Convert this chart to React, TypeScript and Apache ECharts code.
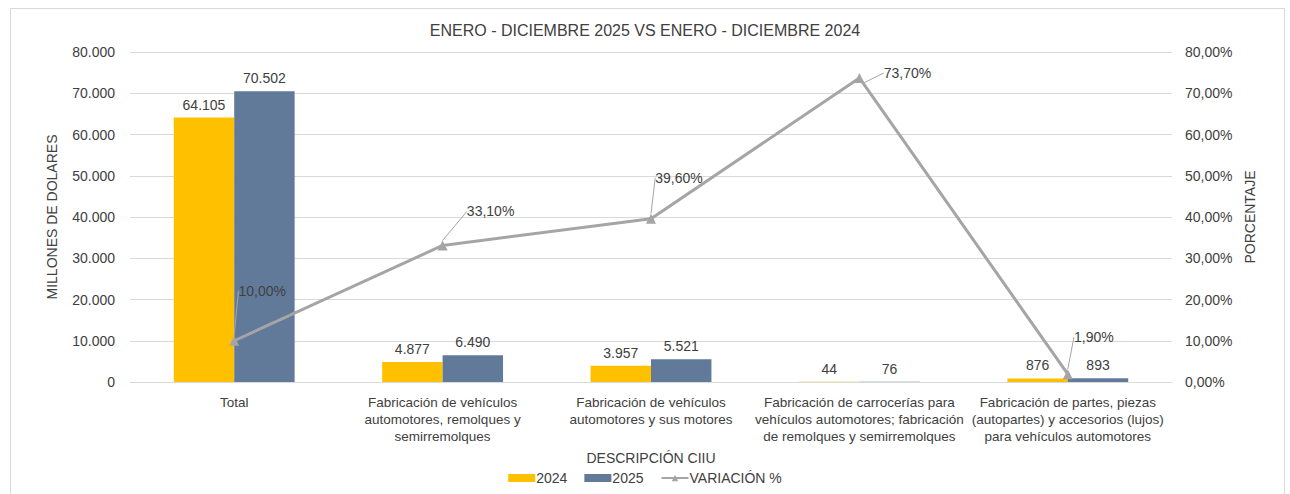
import React, { useEffect, useRef } from "react";
import * as echarts from "echarts";

const categories = [
  "Total",
  "Fabricación de vehículos\nautomotores, remolques y\nsemirremolques",
  "Fabricación de vehículos\nautomotores y sus motores",
  "Fabricación de carrocerías para\nvehículos automotores; fabricación\nde remolques y semirremolques",
  "Fabricación de partes, piezas\n(autopartes) y accesorios (lujos)\npara vehículos automotores",
];
const values2024 = [64105, 4877, 3957, 44, 876];
const values2025 = [70502, 6490, 5521, 76, 893];
const variation = [10.0, 33.1, 39.6, 73.7, 1.9];

const leftTicks = { min: 0, max: 80000, interval: 10000 };
const rightTicks = { min: 0, max: 80, interval: 10 };

// label displacement (px) for variation labels
const varLabelShift = [
  [28, -33],
  [48, -17],
  [28, -24],
  [48, 12],
  [26, -20],
];

const FONT = "'Liberation Sans Narrow', 'Liberation Sans', Arial, sans-serif";
const TXT = "#404040";

const fmtThousands = (v: number) =>
  v === 0 ? "0" : Math.round(v).toString().replace(/\B(?=(\d{3})+(?!\d))/g, ".");
const fmtPct = (v: number) => v.toFixed(2).replace(".", ",") + "%";

export default function App() {
  const ref = useRef<HTMLDivElement>(null);
  useEffect(() => {
    if (!ref.current) return;
    const chart = echarts.init(ref.current, undefined, { renderer: "svg" });
    chart.setOption({
      animation: false,
      backgroundColor: "#ffffff",
      textStyle: { fontFamily: FONT, color: TXT },
      title: {
        text: "ENERO - DICIEMBRE 2025 VS ENERO - DICIEMBRE 2024",
        left: "center",
        top: 17,
        textStyle: { fontFamily: FONT, fontSize: 16, fontWeight: "normal", color: TXT },
      },
      graphic: [
        {
          type: "rect",
          shape: { x: 10.5, y: 8.5, width: 1274, height: 500 },
          style: { fill: "none", stroke: "#D9D9D9", lineWidth: 1 },
          silent: true,
        },
      ],
      legend: {
        bottom: 4,
        left: "center",
        itemWidth: 27,
        itemHeight: 8,
        itemGap: 17,
        textStyle: { fontFamily: FONT, fontSize: 14, color: TXT, padding: [0, 0, 0, -4] },
        data: [
          { name: "2024", icon: "rect" },
          { name: "2025", icon: "rect" },
          { name: "VARIACIÓN %" },
        ],
      },
      grid: { left: 130, right: 118, top: 52, bottom: 112, containLabel: false },
      xAxis: {
        type: "category",
        data: categories,
        name: "DESCRIPCIÓN CIIU",
        nameLocation: "middle",
        nameGap: 69,
        nameTextStyle: { fontFamily: FONT, fontSize: 14, color: TXT },
        axisLine: { lineStyle: { color: "#D9D9D9", width: 1 } },
        axisTick: { show: false },
        axisLabel: {
          interval: 0,
          fontFamily: FONT,
          fontSize: 13.5,
          color: TXT,
          lineHeight: 17,
          margin: 12,
        },
      },
      yAxis: [
        {
          type: "value",
          ...leftTicks,
          name: "MILLONES DE DOLARES",
          nameLocation: "middle",
          nameGap: 71,
          nameRotate: 90,
          nameTextStyle: { fontFamily: FONT, fontSize: 14, color: TXT },
          axisLine: { show: false },
          axisTick: { show: false },
          axisLabel: { formatter: fmtThousands, fontFamily: FONT, fontSize: 14, color: TXT, margin: 15 },
          splitLine: { lineStyle: { color: "#D9D9D9", width: 1 } },
        },
        {
          type: "value",
          ...rightTicks,
          name: "PORCENTAJE",
          nameLocation: "middle",
          nameGap: 64,
          nameRotate: 90,
          nameTextStyle: { fontFamily: FONT, fontSize: 14, color: TXT },
          axisLine: { show: false },
          axisTick: { show: false },
          axisLabel: { formatter: fmtPct, fontFamily: FONT, fontSize: 14, color: TXT, margin: 13 },
          splitLine: { show: false },
        },
      ],
      series: [
        {
          name: "2024",
          type: "bar",
          data: values2024,
          itemStyle: { color: "#FFC000" },
          barGap: "0%",
          barCategoryGap: "42%",
          label: {
            show: true,
            position: "top",
            distance: 6,
            formatter: (p: any) => fmtThousands(p.value),
            fontFamily: FONT,
            fontSize: 14,
            color: TXT,
          },
        },
        {
          name: "2025",
          type: "bar",
          data: values2025,
          itemStyle: { color: "#627A9A" },
          label: {
            show: true,
            position: "top",
            distance: 6,
            formatter: (p: any) => fmtThousands(p.value),
            fontFamily: FONT,
            fontSize: 14,
            color: TXT,
          },
        },
        {
          name: "VARIACIÓN %",
          type: "line",
          yAxisIndex: 1,
          data: variation,
          symbol: "triangle",
          symbolSize: 10,
          itemStyle: { color: "#A5A5A5" },
          lineStyle: { color: "#A5A5A5", width: 3 },
          label: {
            show: true,
            position: "top",
            distance: 5,
            formatter: (p: any) => fmtPct(p.value),
            fontFamily: FONT,
            fontSize: 14,
            color: TXT,
          },
          labelLine: { show: true, lineStyle: { color: "#A5A5A5", width: 1 } },
          labelLayout: (p: any) => ({
            dx: varLabelShift[p.dataIndex][0],
            dy: varLabelShift[p.dataIndex][1],
          }),
          z: 5,
        },
      ],
    });
    return () => chart.dispose();
  }, []);
  return (
    <div
      ref={ref}
      style={{ position: "fixed", left: 0, top: 0, width: 1290, height: 494 }}
    />
  );
}
